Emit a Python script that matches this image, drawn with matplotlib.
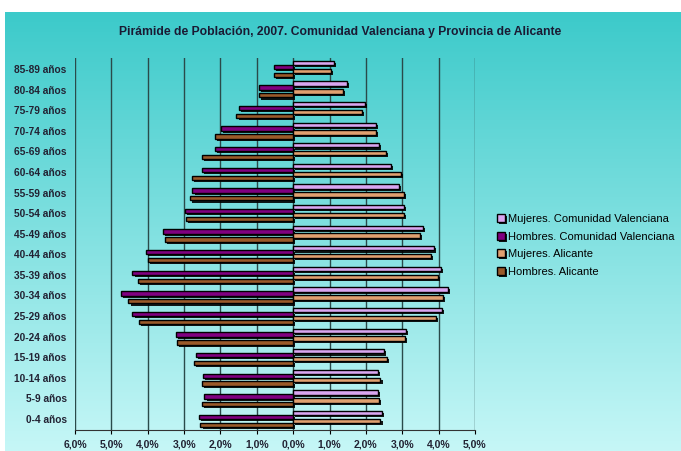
import numpy as np
import matplotlib
matplotlib.use("Agg")
import matplotlib.pyplot as plt
import matplotlib.patheffects as pe
from matplotlib.colors import LinearSegmentedColormap

# Age groups, bottom to top
ages = ['0-4 años', '5-9 años', '10-14 años', '15-19 años', '20-24 años',
        '25-29 años', '30-34 años', '35-39 años', '40-44 años', '45-49 años',
        '50-54 años', '55-59 años', '60-64 años', '65-69 años', '70-74 años',
        '75-79 años', '80-84 años', '85-89 años']

# Percent of total population (men shown on the left)
mujeres_cv = [2.45, 2.32, 2.32, 2.50, 3.09, 4.09, 4.26, 4.07, 3.86, 3.56,
              3.05, 2.92, 2.68, 2.35, 2.28, 1.98, 1.48, 1.12]
hombres_cv = [2.58, 2.44, 2.47, 2.67, 3.22, 4.42, 4.73, 4.42, 4.04, 3.59,
              2.97, 2.77, 2.52, 2.16, 1.99, 1.49, 0.94, 0.52]
mujeres_ali = [2.40, 2.35, 2.40, 2.59, 3.07, 3.92, 4.11, 3.97, 3.80, 3.49,
               3.05, 3.05, 2.96, 2.55, 2.28, 1.90, 1.37, 1.03]
hombres_ali = [2.55, 2.50, 2.52, 2.72, 3.19, 4.23, 4.53, 4.26, 3.99, 3.53,
               2.96, 2.85, 2.78, 2.50, 2.14, 1.56, 0.94, 0.53]

labels = ['Mujeres. Comunidad Valenciana', 'Hombres. Comunidad Valenciana',
          'Mujeres. Alicante', 'Hombres. Alicante']
colors = ['#d9a6f0', '#800080', '#e0a070', '#9a5a2a']

fig = plt.figure(figsize=(6.81, 4.51), dpi=100)

# gradient background
bg = fig.add_axes([5 / 681, 0, 1, 1 - 12 / 451], zorder=-10)
cmap = LinearSegmentedColormap.from_list('bg', ['#3ccaca', '#c6f7f7'])
bg.imshow(np.linspace(0, 1, 256).reshape(-1, 1), aspect='auto', cmap=cmap,
          extent=[0, 1, 0, 1])
bg.set_axis_off()

ax = fig.add_axes([75 / 681, 1 - 430 / 451, 400 / 681, 372 / 451])
ax.patch.set_alpha(0)

y = np.arange(len(ages))
series = [np.array(mujeres_cv), -np.array(hombres_cv),
          np.array(mujeres_ali), -np.array(hombres_ali)]
offsets = [0.29, 0.10, -0.09, -0.28]
shadow = [pe.SimplePatchShadow(offset=(1.5, -1.5), shadow_rgbFace='black', alpha=0.9),
          pe.Normal()]
for vals, off, col, lab in zip(series, offsets, colors, labels):
    ax.barh(y + off, vals, height=0.21, color=col, edgecolor='black',
            linewidth=1.0, label=lab, zorder=3, path_effects=shadow)

fam = ['Liberation Sans', 'DejaVu Sans']
ax.set_xlim(-6, 5)
ax.set_ylim(-0.53, 17.53)
xt = np.arange(-6, 6)
ax.set_xticks(xt)
ax.set_xticklabels([f"{abs(v):.1f}%".replace('.', ',') for v in xt],
                   fontsize=7.5, fontweight='bold', color='#222233', family=fam)
ax.set_yticks(y)
ax.set_yticklabels(ages, fontsize=7.3, fontweight='bold', color='#222233',
                   family=fam)
ax.tick_params(axis='y', length=0, pad=6)
ax.tick_params(axis='x', length=3, direction='out', pad=4)
ax.grid(axis='x', color='#2a4a4a', linewidth=1, zorder=1)
for s in ['top', 'right', 'left']:
    ax.spines[s].set_visible(False)
ax.spines['bottom'].set_color('#333333')

fig.text(0.5, 1 - 32 / 451,
         'Pirámide de Población, 2007. Comunidad Valenciana y Provincia de Alicante',
         ha='center', va='center', fontsize=8.7, fontweight='bold', color='#1a1a33',
         family=fam)

fig.legend(loc='upper left', bbox_to_anchor=(487 / 681, 1 - 204 / 451),
           frameon=False, handlelength=0.75, handleheight=0.75,
           handletextpad=0.25, labelspacing=0.68,
           prop={'family': fam, 'size': 8.0})

fig.savefig('out.png', dpi=100)
